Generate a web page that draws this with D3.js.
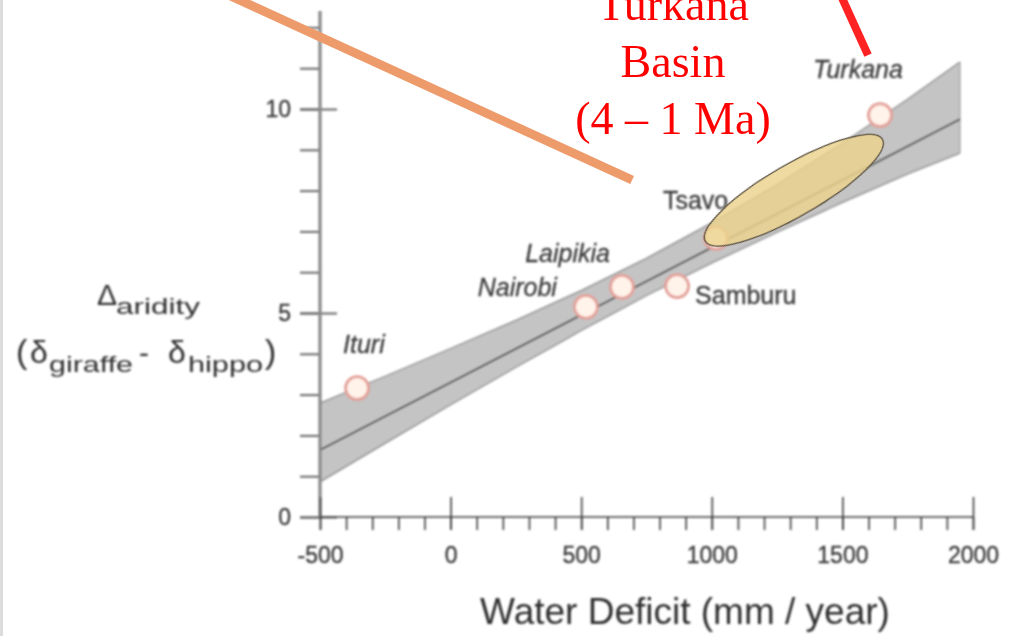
<!DOCTYPE html>
<html>
<head>
<meta charset="utf-8">
<script src="https://cdn.jsdelivr.net/npm/d3@7"></script>
<style>
  html, body { margin: 0; padding: 0; background: #fff; }
  svg { display: block; }
</style>
</head>
<body>
<svg id="chart" width="1036" height="636"></svg>
<script>
// Modern sites: annual water deficit (mm/yr) against the aridity index
const sites = ["Ituri", "Nairobi", "Laipikia", "Samburu", "Tsavo", "Turkana"];
const waterDeficit = [-358, 518, 656, 867, 1016, 1644];
const aridityIndex = [3.16, 5.15, 5.64, 5.66, 6.84, 9.85];
const italicName = [true, true, true, false, false, true];

// Least-squares fit and its confidence envelope
const fitX = [-500, 1950];
const fitY = [1.64, 9.75];
const bandX = [-500, -250, 0, 250, 500, 750, 1000, 1250, 1500, 1750, 1950];
const bandUpper = [2.79, 3.45, 4.13, 4.82, 5.55, 6.34, 7.21, 8.15, 9.16, 10.24, 11.15];
const bandLower = [0.86, 1.81, 2.75, 3.67, 4.57, 5.43, 6.23, 6.98, 7.71, 8.41, 8.92];

// Axis ticks
const xMajorTicks = [-500, 0, 500, 1000, 1500, 2000];
const xMinorTicks = [-500, -400, -300, -200, -100, 0, 100, 200, 300, 400, 500, 600, 700, 800, 900,
                     1000, 1100, 1200, 1300, 1400, 1500, 1600, 1700, 1800, 1900, 2000];
const yMajorTicks = [0, 5, 10];
const yMinorTicks = [0, 1, 2, 3, 4, 5, 6, 7, 8, 9, 10, 11, 12];
const yAxisTop = 12.4;

// Turkana Basin fossil range (4 – 1 Ma), long axis ends in data units
const basinDeficit = [975, 1653];
const basinAridity = [6.76, 9.26];
const basinTitle = ["Turkana", "Basin", "(4 \u2013 1 Ma)"];

// Leader lines, data units (they start above the plot)
const leaderOrange = { x: [-910, 695], y: [12.97, 8.26] };
const leaderRed = { x: [1483, 1598], y: [12.94, 11.32] };

// Label placement around each site marker: [dx, dy, anchor]
const labelOffset = [[-14, -35, "start"], [-29, -11, "end"], [-12, -25, "end"],
                     [18, 18, "start"], [-53, -29, "start"], [-67, -37, "start"]];

const svg = d3.select("#chart");
const sans = "'Liberation Sans', Arial, Helvetica, sans-serif";
const serif = "'Liberation Serif', 'Times New Roman', serif";

const x = d3.scaleLinear().domain([-500, 2000]).range([320, 973]);
const y = d3.scaleLinear().domain([0, 10]).range([517, 109]);

// page edge
svg.append("rect").attr("x", 0).attr("y", 0).attr("width", 3).attr("height", 636).attr("fill", "#dcdcdc");

const defs = svg.append("defs");
defs.append("filter").attr("id", "soft")
  .attr("x", "-5%").attr("y", "-5%").attr("width", "110%").attr("height", "110%")
  .append("feGaussianBlur").attr("stdDeviation", 0.85);

const plot = svg.append("g").attr("filter", "url(#soft)");

// confidence band
const bandData = bandX.map((d, i) => ({ x: d, lo: bandLower[i], hi: bandUpper[i] }));
plot.append("path")
  .datum(bandData)
  .attr("d", d3.area().x(d => x(d.x)).y0(d => y(d.lo)).y1(d => y(d.hi)))
  .attr("fill", "#c4c4c4");
plot.append("path")
  .datum(bandData)
  .attr("d", d3.line().x(d => x(d.x)).y(d => y(d.hi)))
  .attr("fill", "none").attr("stroke", "#888").attr("stroke-width", 1.3);
plot.append("path")
  .datum(bandData)
  .attr("d", d3.line().x(d => x(d.x)).y(d => y(d.lo)))
  .attr("fill", "none").attr("stroke", "#888").attr("stroke-width", 1.3);
plot.append("line")
  .attr("x1", x(bandX[bandX.length - 1])).attr("x2", x(bandX[bandX.length - 1]))
  .attr("y1", y(bandUpper[bandUpper.length - 1])).attr("y2", y(bandLower[bandLower.length - 1]))
  .attr("stroke", "#9a9a9a").attr("stroke-width", 1.2);

// fit line
plot.append("path")
  .datum(fitX.map((d, i) => [d, fitY[i]]))
  .attr("d", d3.line().x(d => x(d[0])).y(d => y(d[1])))
  .attr("fill", "none").attr("stroke", "#3c3c3c").attr("stroke-width", 1.7);

// y axis
const yAxisG = plot.append("g").attr("transform", `translate(${x(-500)},0)`);
yAxisG.append("g").call(d3.axisLeft(y).tickValues(yMinorTicks).tickSize(20).tickFormat(""));
yAxisG.append("g").call(d3.axisLeft(y).tickValues(yMajorTicks).tickSize(20).tickPadding(9).tickFormat(d => String(d)));
yAxisG.append("g").call(d3.axisRight(y).tickValues(yMajorTicks).tickSize(17).tickFormat(""));
yAxisG.selectAll(".domain").remove();
yAxisG.selectAll(".tick line").attr("stroke", "#666").attr("stroke-width", 2);
yAxisG.append("line").attr("x1", 0).attr("x2", 0).attr("y1", y(0)).attr("y2", y(yAxisTop))
  .attr("stroke", "#888").attr("stroke-width", 3.2);

// x axis
const xAxisG = plot.append("g").attr("transform", `translate(0,${y(0)})`);
xAxisG.append("g").call(d3.axisBottom(x).tickValues(xMinorTicks).tickSize(13).tickFormat(""));
xAxisG.append("g").call(d3.axisBottom(x).tickValues(xMajorTicks).tickSize(13).tickPadding(17).tickFormat(d => String(d)));
xAxisG.append("g").call(d3.axisTop(x).tickValues(xMajorTicks).tickSize(20).tickFormat(""));
xAxisG.selectAll(".domain").remove();
xAxisG.selectAll(".tick line").attr("stroke", "#3d3d3d").attr("stroke-width", 1.6);
xAxisG.append("line").attr("x1", x(-500)).attr("x2", x(2000)).attr("y1", 0).attr("y2", 0)
  .attr("stroke", "#3d3d3d").attr("stroke-width", 1.6);

plot.selectAll(".tick text")
  .attr("font-family", sans).attr("font-size", 23).attr("fill", "#3a3a3a")
  .attr("stroke", "#3a3a3a").attr("stroke-width", 0.35);

// site markers
const siteData = sites.map((s, i) => ({ name: s, wd: waterDeficit[i], ar: aridityIndex[i], it: italicName[i], off: labelOffset[i] }));
plot.selectAll("circle.site")
  .data(siteData).enter().append("circle")
  .attr("class", "site")
  .attr("cx", d => x(d.wd)).attr("cy", d => y(d.ar)).attr("r", 11.5)
  .attr("fill", "#fff3ea").attr("stroke", "#e39f97").attr("stroke-width", 2.8);

plot.selectAll("text.site")
  .data(siteData).enter().append("text")
  .attr("class", "site")
  .attr("x", d => x(d.wd) + d.off[0]).attr("y", d => y(d.ar) + d.off[1])
  .attr("text-anchor", d => d.off[2])
  .attr("font-family", sans).attr("font-size", 25)
  .attr("font-style", d => d.it ? "italic" : "normal")
  .attr("fill", "#3a3a3a").attr("stroke", "#3a3a3a").attr("stroke-width", 0.3)
  .text(d => d.name);

// axis titles
plot.append("text")
  .attr("x", 685).attr("y", 624).attr("text-anchor", "middle")
  .attr("font-family", sans).attr("font-size", 37).attr("fill", "#2e2e2e")
  .text("Water Deficit (mm / year)");

const yt = plot.append("g").attr("font-family", sans).attr("fill", "#2e2e2e");
yt.append("text").attr("x", 97).attr("y", 305).attr("font-size", 30).text("\u0394");
yt.append("text").attr("x", 116).attr("y", 314).attr("font-size", 22)
  .attr("textLength", 84).attr("lengthAdjust", "spacingAndGlyphs").text("aridity");
yt.append("text").attr("x", 16).attr("y", 363).attr("font-size", 34).text("(");
yt.append("text").attr("x", 30).attr("y", 363).attr("font-size", 32).text("\u03b4");
yt.append("text").attr("x", 49).attr("y", 372).attr("font-size", 22)
  .attr("textLength", 84).attr("lengthAdjust", "spacingAndGlyphs").text("giraffe");
yt.append("text").attr("x", 139).attr("y", 363).attr("font-size", 30).text("-");
yt.append("text").attr("x", 168).attr("y", 363).attr("font-size", 32).text("\u03b4");
yt.append("text").attr("x", 188).attr("y", 372).attr("font-size", 22)
  .attr("textLength", 75).attr("lengthAdjust", "spacingAndGlyphs").text("hippo");
yt.append("text").attr("x", 265).attr("y", 363).attr("font-size", 34).text(")");

// Turkana Basin ellipse
const p1 = [x(basinDeficit[0]), y(basinAridity[0])];
const p2 = [x(basinDeficit[1]), y(basinAridity[1])];
const ecx = (p1[0] + p2[0]) / 2, ecy = (p1[1] + p2[1]) / 2;
const erx = Math.hypot(p2[0] - p1[0], p2[1] - p1[1]) / 2;
const eang = Math.atan2(p2[1] - p1[1], p2[0] - p1[0]) * 180 / Math.PI;
svg.append("ellipse")
  .attr("cx", ecx).attr("cy", ecy).attr("rx", erx).attr("ry", 26)
  .attr("transform", `rotate(${eang},${ecx},${ecy})`)
  .attr("fill", "#ecd38c").attr("fill-opacity", 0.82)
  .attr("stroke", "#5a5040").attr("stroke-width", 1.3);

// leader lines
svg.append("line")
  .attr("x1", x(leaderOrange.x[0])).attr("y1", y(leaderOrange.y[0]))
  .attr("x2", x(leaderOrange.x[1])).attr("y2", y(leaderOrange.y[1]))
  .attr("stroke", "#ed9b6b").attr("stroke-width", 9);
svg.append("line")
  .attr("x1", x(leaderRed.x[0])).attr("y1", y(leaderRed.y[0]))
  .attr("x2", x(leaderRed.x[1])).attr("y2", y(leaderRed.y[1]))
  .attr("stroke", "#ff2222").attr("stroke-width", 8);

// basin title
svg.append("g").selectAll("text")
  .data(basinTitle).enter().append("text")
  .attr("x", 673).attr("y", (d, i) => 20 + i * 57)
  .attr("text-anchor", "middle")
  .attr("font-family", serif).attr("font-size", 46).attr("fill", "#ff0000")
  .text(d => d);
</script>
</body>
</html>
